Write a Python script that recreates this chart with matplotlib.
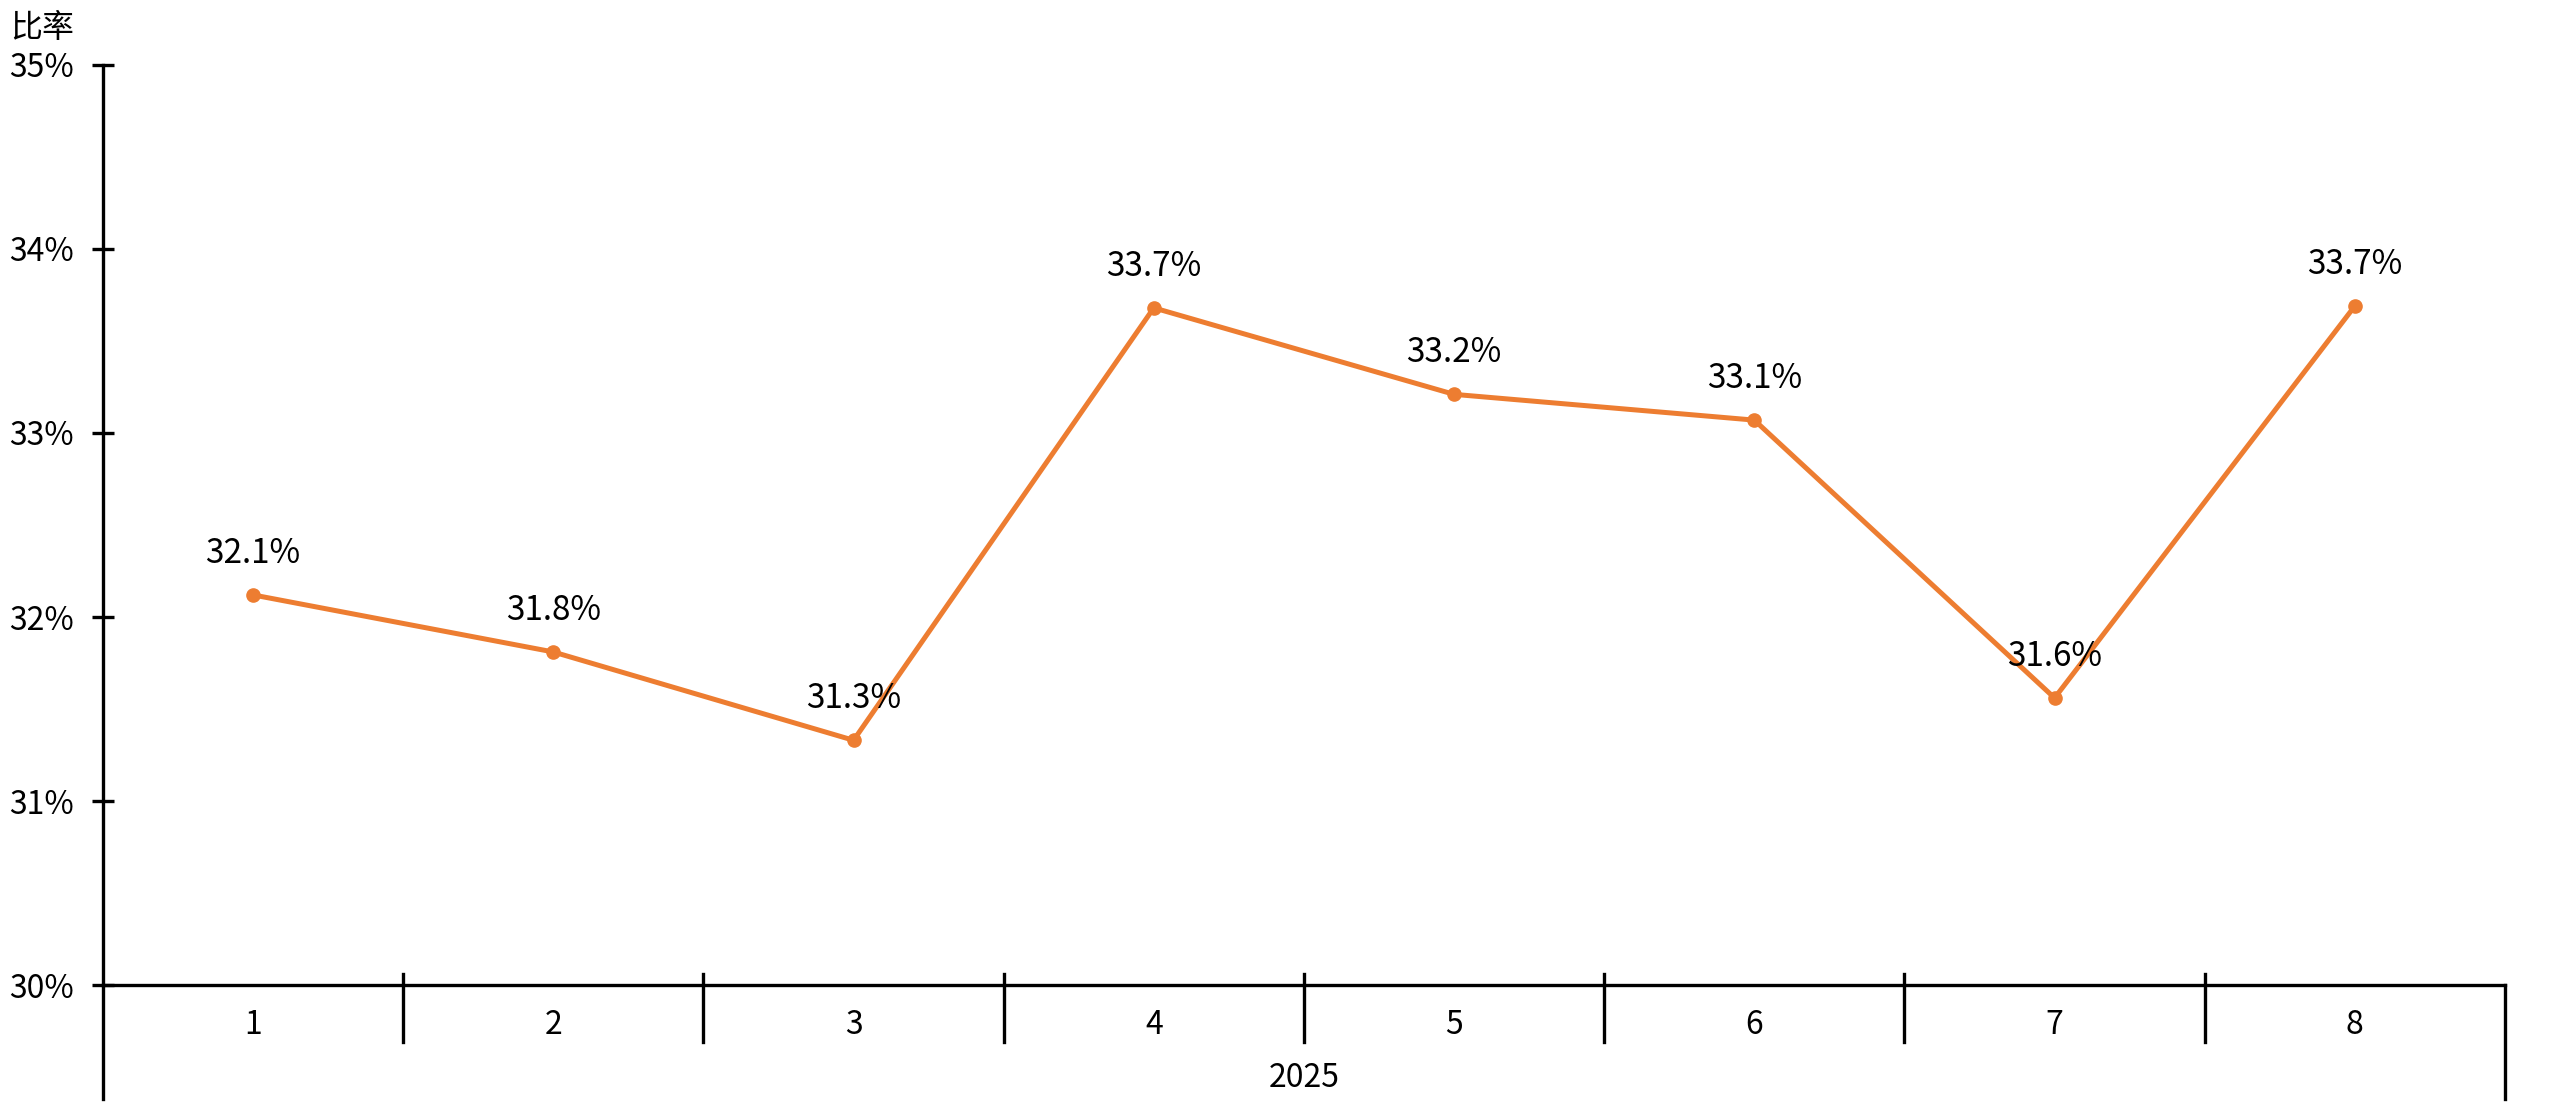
import numpy as np
import matplotlib.pyplot as plt
from matplotlib.transforms import blended_transform_factory

plt.rcParams['font.family'] = ['Noto Sans CJK SC', 'DejaVu Sans']

months = ['1', '2', '3', '4', '5', '6', '7', '8']
year = '2025'
ratio = [32.12, 31.81, 31.33, 33.68, 33.21, 33.07, 31.56, 33.69]
ratio_labels = ['32.1%', '31.8%', '31.3%', '33.7%', '33.2%', '33.1%', '31.6%', '33.7%']
y_ticks = [30, 31, 32, 33, 34, 35]

orange = '#ED7D31'
fs = 23

fig = plt.figure(figsize=(25.6, 11.09), dpi=100)
ax = fig.add_axes([0.0402, 0.1118, 0.9383, 0.8296])

x = np.arange(1, len(months) + 1)
ax.plot(x, ratio, color=orange, lw=3.6, marker='o', ms=9.5, solid_capstyle='round')
for xi, yi, lab in zip(x, ratio, ratio_labels):
    ax.annotate(lab, (xi, yi), xytext=(0, 30), textcoords='offset points',
                ha='center', va='center', fontsize=24, color='black')

ax.set_xlim(0.5, len(months) + 0.5)
ax.set_ylim(30, 35)

for s in ['top', 'right']:
    ax.spines[s].set_visible(False)
for s in ['left', 'bottom']:
    ax.spines[s].set_linewidth(2.4)
    ax.spines[s].set_color('black')

ax.set_yticks(y_ticks)
ax.set_yticklabels([f'{t}%' for t in y_ticks])
ax.tick_params(axis='y', direction='inout', length=16, width=2.4, pad=13, labelsize=fs)

ax.set_xticks(x)
ax.set_xticklabels(months)
ax.tick_params(axis='x', length=0, pad=17, labelsize=fs)

# category separators and outer group lines
trans = blended_transform_factory(ax.transData, ax.transAxes)
for b in np.arange(1.5, len(months) + 0.5, 1.0):
    ax.plot([b, b], [0.012, -0.062], color='black', lw=2.4, transform=trans, clip_on=False)
for b in [0.5, len(months) + 0.5]:
    ax.plot([b, b], [0, -0.124], color='black', lw=2.4, transform=trans, clip_on=False)

ax.text((len(months) + 1) / 2, -0.101, year, transform=trans, ha='center', va='center', fontsize=fs)

fig.text(10 / 2560, 1 - 12 / 1109, '比率', ha='left', va='top', fontsize=fs)

fig.savefig('out.png', dpi=100)
